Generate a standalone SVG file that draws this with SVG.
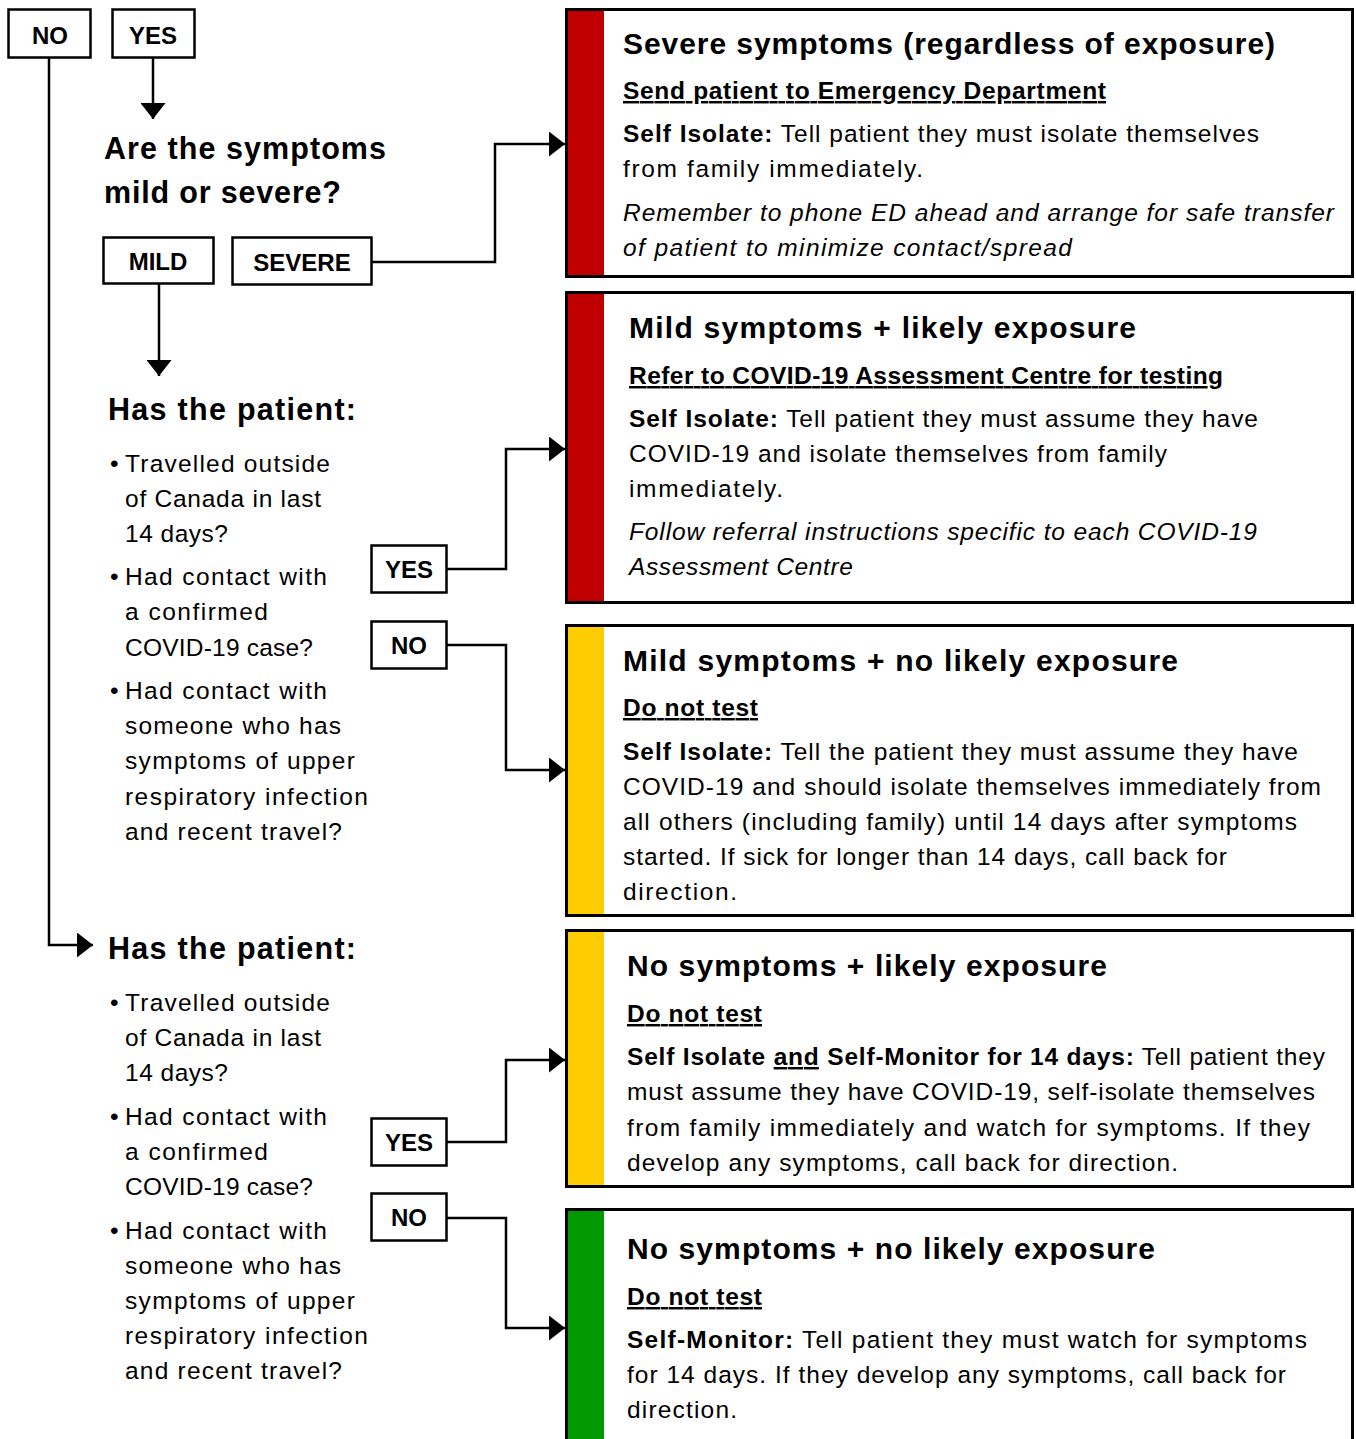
<svg xmlns="http://www.w3.org/2000/svg" width="1356" height="1439" viewBox="0 0 1356 1439">
<style>
text{font-family:"Liberation Sans",Arial,sans-serif;fill:#000}
.q{font-size:30.5px;font-weight:bold}
.lbl{font-size:24px;font-weight:bold;text-anchor:middle}
.bl{font-size:24.5px}
.t{font-size:30px;font-weight:bold}
.s{font-size:24.5px;font-weight:bold;text-decoration:underline}
.b{font-size:24.5px}
.i{font-size:24.5px;font-style:italic}
.bd{font-weight:bold}
.box{fill:#fff;stroke:#000;stroke-width:2.5}
.card{fill:none;stroke:#000;stroke-width:3}
.bg{fill:#fff}
.red{fill:#C00000}
.yel{fill:#FFCC00}
.grn{fill:#009A00}
.con{fill:none;stroke:#000;stroke-width:2.5;marker-end:url(#ah)}
</style>
<defs>
<marker id="ah" markerUnits="userSpaceOnUse" markerWidth="17" markerHeight="25" refX="16" refY="12.5" orient="auto">
<path d="M0,0 L16,12.5 L0,25 z" fill="#000"/>
</marker>
</defs>
<rect width="1356" height="1439" fill="#fff"/>

<g id="connectors">
<polyline class="con" points="153,58 153,119"/>
<polyline class="con" points="372,262 495,262 495,144 565,144"/>
<polyline class="con" points="159,284 159,376"/>
<polyline class="con" points="447,569 506,569 506,449 565,449"/>
<polyline class="con" points="447,645 506,645 506,770 565,770"/>
<polyline class="con" points="49,58 49,945 93,945"/>
<polyline class="con" points="447,1142 506,1142 506,1060 565,1060"/>
<polyline class="con" points="447,1218 506,1218 506,1328 565,1328"/>
</g>

<g id="no-top">
<rect class="box" x="8.5" y="9.5" width="82" height="48"/>
<text class="lbl" x="50" y="44">NO</text>
</g>
<g id="yes-top">
<rect class="box" x="112.5" y="9.5" width="82" height="48"/>
<text class="lbl" x="153" y="44">YES</text>
</g>

<g id="q-severity">
<text class="q" x="104" y="159" textLength="282">Are the symptoms</text>
<text class="q" x="104" y="203" textLength="237">mild or severe?</text>
</g>
<g id="mild">
<rect class="box" x="103.5" y="237.5" width="110" height="46"/>
<text class="lbl" x="158" y="270">MILD</text>
</g>
<g id="severe">
<rect class="box" x="232.5" y="237.5" width="139" height="47"/>
<text class="lbl" x="302" y="271">SEVERE</text>
</g>

<g id="q-exposure-mild">
<text class="q" x="108" y="420" textLength="248">Has the patient:</text>
<text class="bl" x="110" y="472">•</text>
<text class="bl" x="125" y="472" textLength="205">Travelled outside</text>
<text class="bl" x="125" y="507" textLength="196">of Canada in last</text>
<text class="bl" x="125" y="542" textLength="103">14 days?</text>
<text class="bl" x="110" y="585">•</text>
<text class="bl" x="125" y="585" textLength="202">Had contact with</text>
<text class="bl" x="125" y="620" textLength="143">a confirmed</text>
<text class="bl" x="125" y="656" textLength="188">COVID-19 case?</text>
<text class="bl" x="110" y="699">•</text>
<text class="bl" x="125" y="699" textLength="202">Had contact with</text>
<text class="bl" x="125" y="734" textLength="216">someone who has</text>
<text class="bl" x="125" y="769" textLength="230">symptoms of upper</text>
<text class="bl" x="125" y="805" textLength="243">respiratory infection</text>
<text class="bl" x="125" y="840" textLength="217">and recent travel?</text>
</g>
<g id="yes-mild">
<rect class="box" x="371.5" y="545.5" width="75" height="47"/>
<text class="lbl" x="409" y="578">YES</text>
</g>
<g id="no-mild">
<rect class="box" x="371.5" y="621.5" width="75" height="47"/>
<text class="lbl" x="409" y="654">NO</text>
</g>

<g id="q-exposure-none">
<text class="q" x="108" y="959" textLength="248">Has the patient:</text>
<text class="bl" x="110" y="1011">•</text>
<text class="bl" x="125" y="1011" textLength="205">Travelled outside</text>
<text class="bl" x="125" y="1046" textLength="196">of Canada in last</text>
<text class="bl" x="125" y="1081" textLength="103">14 days?</text>
<text class="bl" x="110" y="1125">•</text>
<text class="bl" x="125" y="1125" textLength="202">Had contact with</text>
<text class="bl" x="125" y="1160" textLength="143">a confirmed</text>
<text class="bl" x="125" y="1195" textLength="188">COVID-19 case?</text>
<text class="bl" x="110" y="1239">•</text>
<text class="bl" x="125" y="1239" textLength="202">Had contact with</text>
<text class="bl" x="125" y="1274" textLength="216">someone who has</text>
<text class="bl" x="125" y="1309" textLength="230">symptoms of upper</text>
<text class="bl" x="125" y="1344" textLength="243">respiratory infection</text>
<text class="bl" x="125" y="1379" textLength="217">and recent travel?</text>
</g>
<g id="yes-none">
<rect class="box" x="371.5" y="1118.5" width="75" height="47"/>
<text class="lbl" x="409" y="1151">YES</text>
</g>
<g id="no-none">
<rect class="box" x="371.5" y="1193.5" width="75" height="47"/>
<text class="lbl" x="409" y="1226">NO</text>
</g>

<g id="card-severe">
<rect class="bg" x="566.5" y="9.5" width="786" height="267"/>
<rect class="red" x="567" y="10" width="37" height="266"/>
<rect class="card" x="566.5" y="9.5" width="786" height="267"/>
<text class="t" x="623" y="54" textLength="652">Severe symptoms (regardless of exposure)</text>
<text class="s" x="623" y="99" textLength="483">Send patient to Emergency Department</text>
<text class="b" x="623" y="142" textLength="636"><tspan class="bd">Self Isolate:</tspan> Tell patient they must isolate themselves</text>
<text class="b" x="623" y="177" textLength="300">from family immediately.</text>
<text class="i" x="623" y="221" textLength="711">Remember to phone ED ahead and arrange for safe transfer</text>
<text class="i" x="623" y="256" textLength="449">of patient to minimize contact/spread</text>
</g>

<g id="card-mild-exposure">
<rect class="bg" x="566.5" y="292.5" width="786" height="310"/>
<rect class="red" x="567" y="293" width="37" height="309"/>
<rect class="card" x="566.5" y="292.5" width="786" height="310"/>
<text class="t" x="629" y="338" textLength="507">Mild symptoms + likely exposure</text>
<text class="s" x="629" y="384" textLength="594">Refer to COVID-19 Assessment Centre for testing</text>
<text class="b" x="629" y="427" textLength="629"><tspan class="bd">Self Isolate:</tspan> Tell patient they must assume they have</text>
<text class="b" x="629" y="462" textLength="538">COVID-19 and isolate themselves from family</text>
<text class="b" x="629" y="497" textLength="154">immediately.</text>
<text class="i" x="629" y="540" textLength="628">Follow referral instructions specific to each COVID-19</text>
<text class="i" x="629" y="575" textLength="224">Assessment Centre</text>
</g>

<g id="card-mild-none">
<rect class="bg" x="566.5" y="625.5" width="786" height="290"/>
<rect class="yel" x="567" y="626" width="37" height="289"/>
<rect class="card" x="566.5" y="625.5" width="786" height="290"/>
<text class="t" x="623" y="671" textLength="555">Mild symptoms + no likely exposure</text>
<text class="s" x="623" y="716" textLength="135">Do not test</text>
<text class="b" x="623" y="760" textLength="675"><tspan class="bd">Self Isolate:</tspan> Tell the patient they must assume they have</text>
<text class="b" x="623" y="795" textLength="698">COVID-19 and should isolate themselves immediately from</text>
<text class="b" x="623" y="830" textLength="674">all others (including family) until 14 days after symptoms</text>
<text class="b" x="623" y="865" textLength="604">started. If sick for longer than 14 days, call back for</text>
<text class="b" x="623" y="900" textLength="114">direction.</text>
</g>

<g id="card-none-exposure">
<rect class="bg" x="566.5" y="930.5" width="786" height="256"/>
<rect class="yel" x="567" y="931" width="37" height="255"/>
<rect class="card" x="566.5" y="930.5" width="786" height="256"/>
<text class="t" x="627" y="976" textLength="480">No symptoms + likely exposure</text>
<text class="s" x="627" y="1022" textLength="135">Do not test</text>
<text class="b" x="627" y="1065" textLength="698"><tspan class="bd">Self Isolate <tspan style="text-decoration:underline">and</tspan> Self-Monitor for 14 days:</tspan> Tell patient they</text>
<text class="b" x="627" y="1100" textLength="688">must assume they have COVID-19, self-isolate themselves</text>
<text class="b" x="627" y="1136" textLength="683">from family immediately and watch for symptoms. If they</text>
<text class="b" x="627" y="1171" textLength="551">develop any symptoms, call back for direction.</text>
</g>

<g id="card-none-none">
<rect class="bg" x="566.5" y="1209.5" width="786" height="260"/>
<rect class="grn" x="567" y="1210" width="37" height="259"/>
<rect class="card" x="566.5" y="1209.5" width="786" height="260"/>
<text class="t" x="627" y="1259" textLength="528">No symptoms + no likely exposure</text>
<text class="s" x="627" y="1305" textLength="135">Do not test</text>
<text class="b" x="627" y="1348" textLength="680"><tspan class="bd">Self-Monitor:</tspan> Tell patient they must watch for symptoms</text>
<text class="b" x="627" y="1383" textLength="659">for 14 days. If they develop any symptoms, call back for</text>
<text class="b" x="627" y="1418" textLength="110">direction.</text>
</g>
</svg>
